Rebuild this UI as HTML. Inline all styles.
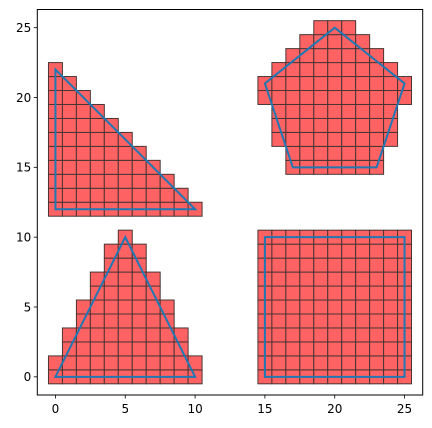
<!DOCTYPE html>
<html><head><meta charset="utf-8"><style>
body{margin:0;background:#fff}
svg{display:block;font-family:"DejaVu Sans","Liberation Sans",sans-serif}
</style></head><body>
<svg id="chart" width="432" height="428" viewBox="0 0 432 428" xmlns="http://www.w3.org/2000/svg">
<rect x="0" y="0" width="432" height="428" fill="#fff"/>
<g id="cells"></g>
<g id="outlines"></g>
<g id="axes"></g>
</svg>
<script>
// Polygon vertices (data coords)
const rightTriangle = [[0,12],[10,12],[0,22]];
const isoTriangle = [[0,0],[10,0],[5,10]];
const squareShape = [[15,0],[25,0],[25,10],[15,10]];
const pentagon = [[20,25],[25,21],[23,15],[17,15],[15,21]];
// Rasterized cell rows: [y, xStart, xEnd]
const rightTriRows = [[12,0,10],[13,0,9],[14,0,8],[15,0,7],[16,0,6],[17,0,5],[18,0,4],[19,0,3],[20,0,2],[21,0,1],[22,0,0]];
const isoTriRows = [[0,0,10],[1,0,10],[2,1,9],[3,1,9],[4,2,8],[5,2,8],[6,3,7],[7,3,7],[8,4,6],[9,4,6],[10,5,5]];
const squareRows = [[0,15,25],[1,15,25],[2,15,25],[3,15,25],[4,15,25],[5,15,25],[6,15,25],[7,15,25],[8,15,25],[9,15,25],[10,15,25]];
const pentagonRows = [[15,17,23],[16,17,23],[17,16,24],[18,16,24],[19,16,24],[20,15,25],[21,15,25],[22,16,24],[23,17,23],[24,18,22],[25,19,21]];
const xTicks = [0,5,10,15,20,25];
const yTicks = [0,5,10,15,20,25];

const L=37.3,R=422.7,T=9.5,B=395,dmin=-1.3,dmax=26.3;
const sx=v=>L+(v-dmin)/(dmax-dmin)*(R-L);
const sy=v=>B-(v-dmin)/(dmax-dmin)*(B-T);
const NS='http://www.w3.org/2000/svg';
function mk(tag,attrs,parent){const e=document.createElementNS(NS,tag);for(const k in attrs)e.setAttribute(k,attrs[k]);parent.appendChild(e);return e;}

const cells=document.getElementById('cells');
[[rightTriRows,'right-triangle'],[isoTriRows,'iso-triangle'],[squareRows,'square'],[pentagonRows,'pentagon']].forEach(([rows,nm])=>{
  rows.forEach(([y,a,b])=>{
    for(let x=a;x<=b;x++){
      const r=mk('rect',{x:sx(x-0.5),y:sy(y+0.5),width:sx(x+0.5)-sx(x-0.5),height:sy(y-0.5)-sy(y+0.5),fill:'#fe6262',stroke:'#4a3535','stroke-width':1},cells);
      
      
    }
  });
});
const outl=document.getElementById('outlines');
[[rightTriangle,'right-triangle-outline'],[isoTriangle,'iso-triangle-outline'],[squareShape,'square-outline'],[pentagon,'pentagon-outline']].forEach(([pts,nm])=>{
  const p=mk('polygon',{points:pts.map(q=>sx(q[0])+','+sy(q[1])).join(' '),fill:'none',stroke:'#1f77b4','stroke-width':2,'stroke-linejoin':'miter'},outl);
  
  
});
const ax=document.getElementById('axes');
const fr=mk('rect',{x:L,y:T,width:R-L,height:B-T,fill:'none',stroke:'#000','stroke-width':1},ax);


xTicks.forEach(v=>{
  const t=mk('line',{x1:sx(v),x2:sx(v),y1:B,y2:B+3.5,stroke:'#000','stroke-width':0.8},ax);
  
  
  const l=mk('text',{x:sx(v),y:B+18,'text-anchor':'middle','font-size':12,fill:'#000'},ax);
  l.textContent=v;
  
  
});
yTicks.forEach(v=>{
  const t=mk('line',{x1:L-3.5,x2:L,y1:sy(v),y2:sy(v),stroke:'#000','stroke-width':0.8},ax);
  
  
  const l=mk('text',{x:L-6,y:sy(v)+4.3,'text-anchor':'end','font-size':12,fill:'#000'},ax);
  l.textContent=v;
  
  
});
</script>
</body></html>
